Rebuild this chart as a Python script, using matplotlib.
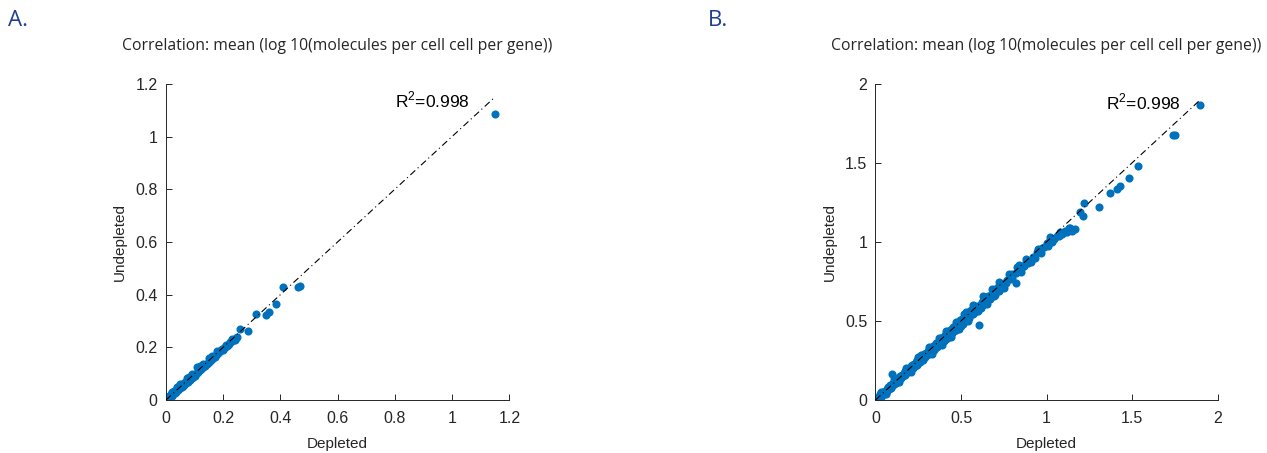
import matplotlib.pyplot as plt
import numpy as np

# values
dep_a = [0.002, 0.005, 0.008, 0.010, 0.012, 0.015, 0.018, 0.020, 0.022, 0.025, 0.028, 0.030,
         0.033, 0.036, 0.040, 0.040, 0.043, 0.046, 0.050, 0.053, 0.055, 0.056, 0.060, 0.063,
         0.066, 0.070, 0.073, 0.075, 0.076, 0.080, 0.083, 0.086, 0.090, 0.090, 0.093, 0.096,
         0.100, 0.103, 0.107, 0.110, 0.113, 0.116, 0.120, 0.123, 0.126, 0.130, 0.130, 0.133,
         0.136, 0.140, 0.143, 0.146, 0.150, 0.153, 0.156, 0.160, 0.160, 0.163, 0.166, 0.170,
         0.173, 0.176, 0.180, 0.183, 0.186, 0.190, 0.193, 0.196, 0.200, 0.204, 0.208, 0.212,
         0.216, 0.220, 0.225, 0.230, 0.235, 0.240, 0.245, 0.249,
         0.020, 0.050, 0.080, 0.120, 0.150, 0.180, 0.210, 0.230, 0.240, 0.200, 0.100, 0.060,
         0.260, 0.286, 0.315, 0.349, 0.360, 0.386, 0.410, 0.462, 0.469, 1.151]
undep_a = [0.003, 0.004, 0.010, 0.007, 0.016, 0.012, 0.022, 0.017, 0.028, 0.021, 0.033, 0.026,
           0.036, 0.031, 0.044, 0.050, 0.038, 0.052, 0.045, 0.055, 0.062, 0.050, 0.062, 0.057,
           0.068, 0.064, 0.071, 0.083, 0.069, 0.078, 0.075, 0.082, 0.085, 0.100, 0.090, 0.088,
           0.095, 0.099, 0.126, 0.104, 0.108, 0.112, 0.114, 0.119, 0.121, 0.125, 0.138, 0.131,
           0.130, 0.135, 0.138, 0.142, 0.146, 0.147, 0.153, 0.155, 0.168, 0.158, 0.163, 0.165,
           0.168, 0.172, 0.175, 0.178, 0.183, 0.185, 0.188, 0.192, 0.195, 0.198, 0.203, 0.206,
           0.210, 0.214, 0.219, 0.223, 0.227, 0.232, 0.234, 0.238,
           0.030, 0.060, 0.088, 0.128, 0.160, 0.186, 0.210, 0.232, 0.226, 0.190, 0.090, 0.052,
           0.270, 0.263, 0.325, 0.323, 0.335, 0.363, 0.428, 0.430, 0.433, 1.086]

dep_b = [0.005, 0.010, 0.015, 0.020, 0.025, 0.030, 0.035, 0.040, 0.045, 0.050, 0.055, 0.060,
         0.065, 0.070, 0.075, 0.080, 0.085, 0.090, 0.096, 0.100, 0.105, 0.110, 0.115, 0.120,
         0.125, 0.130, 0.135, 0.140, 0.145, 0.150, 0.155, 0.160, 0.165, 0.170, 0.175, 0.180,
         0.185, 0.190, 0.195, 0.200, 0.205, 0.210, 0.215, 0.220, 0.225, 0.230, 0.235, 0.240,
         0.245, 0.250, 0.255, 0.260, 0.267, 0.270, 0.275, 0.280, 0.285, 0.290, 0.295, 0.300,
         0.305, 0.310, 0.315, 0.320, 0.325, 0.330, 0.335, 0.340, 0.345, 0.350, 0.355, 0.360,
         0.365, 0.370, 0.375, 0.380, 0.385, 0.390, 0.395, 0.400, 0.405, 0.410, 0.415, 0.420,
         0.425, 0.433, 0.430, 0.440, 0.445, 0.450, 0.455, 0.460, 0.465, 0.470, 0.475, 0.480,
         0.491, 0.495, 0.500, 0.505, 0.510, 0.515, 0.520, 0.530, 0.530, 0.540, 0.545, 0.550,
         0.555, 0.560, 0.570, 0.575, 0.580, 0.590, 0.595, 0.604, 0.608, 0.610, 0.615, 0.620,
         0.630, 0.640, 0.650, 0.660, 0.670, 0.680, 0.690, 0.700, 0.715, 0.720, 0.730, 0.740,
         0.750, 0.764, 0.770, 0.780, 0.790, 0.800, 0.823, 0.820, 0.838, 0.840, 0.850, 0.860,
         0.870, 0.880, 0.890, 0.900, 0.918, 0.930, 0.945, 0.960, 0.975, 0.988, 1.000, 1.010,
         1.018, 1.030, 1.045, 1.060, 1.076, 1.090, 1.105, 1.120, 1.140, 1.150, 1.164, 1.193,
         0.030, 0.060, 0.110, 0.140, 0.180, 0.210, 0.250, 0.280, 0.310, 0.330, 0.370, 0.390,
         0.410, 0.440, 0.470, 0.490, 0.520, 0.540, 0.570, 0.600, 0.630, 0.650, 0.680, 0.700,
         0.720, 0.750, 0.780, 0.800, 0.830, 0.850, 0.880, 0.910, 0.950, 0.970, 1.020, 1.070,
         1.110, 1.130,
         1.216, 1.218, 1.304, 1.372, 1.411, 1.431, 1.480, 1.534, 1.739, 1.749, 1.895]
undep_b = [0.008, 0.004, 0.020, 0.012, 0.035, 0.022, 0.045, 0.030, 0.052, 0.040, 0.060, 0.048,
           0.072, 0.058, 0.080, 0.068, 0.092, 0.078, 0.165, 0.095, 0.110, 0.100, 0.122, 0.108,
           0.130, 0.120, 0.145, 0.128, 0.150, 0.138, 0.160, 0.150, 0.172, 0.158, 0.182, 0.170,
           0.192, 0.178, 0.200, 0.188, 0.212, 0.196, 0.222, 0.205, 0.230, 0.215, 0.240, 0.222,
           0.250, 0.235, 0.262, 0.242, 0.285, 0.250, 0.280, 0.262, 0.290, 0.270, 0.300, 0.282,
           0.312, 0.290, 0.320, 0.298, 0.330, 0.305, 0.340, 0.318, 0.350, 0.328, 0.362, 0.335,
           0.370, 0.345, 0.380, 0.352, 0.392, 0.365, 0.400, 0.375, 0.410, 0.385, 0.420, 0.392,
           0.430, 0.443, 0.400, 0.415, 0.450, 0.425, 0.462, 0.435, 0.470, 0.442, 0.480, 0.455,
           0.485, 0.505, 0.470, 0.515, 0.480, 0.525, 0.500, 0.559, 0.510, 0.548, 0.520, 0.560,
           0.535, 0.570, 0.545, 0.580, 0.556, 0.595, 0.570, 0.475, 0.591, 0.600, 0.585, 0.620,
           0.600, 0.640, 0.625, 0.655, 0.640, 0.675, 0.660, 0.700, 0.717, 0.690, 0.728, 0.712,
           0.742, 0.738, 0.760, 0.772, 0.765, 0.800, 0.738, 0.805, 0.854, 0.818, 0.830, 0.848,
           0.850, 0.872, 0.865, 0.880, 0.907, 0.900, 0.935, 0.935, 0.962, 0.970, 0.990, 0.975,
           1.034, 1.000, 1.020, 1.035, 1.065, 1.050, 1.070, 1.060, 1.085, 1.070, 1.080, 1.186,
           0.050, 0.035, 0.130, 0.115, 0.200, 0.180, 0.270, 0.250, 0.335, 0.290, 0.390, 0.350,
           0.435, 0.400, 0.495, 0.450, 0.545, 0.500, 0.600, 0.560, 0.655, 0.610, 0.700, 0.665,
           0.745, 0.710, 0.800, 0.770, 0.840, 0.810, 0.890, 0.870, 0.955, 0.930, 1.010, 1.040,
           1.060, 1.090,
           1.165, 1.245, 1.220, 1.308, 1.337, 1.354, 1.403, 1.483, 1.677, 1.677, 1.869]

title = "Correlation: mean (log 10(molecules per cell cell per gene))"
r2_text = "R$^2$=0.998"

dot_color = "#0072BD"
ink = "#262626"
panel_blue = "#203f8f"

plt.rcParams['font.family'] = ['Liberation Sans', 'DejaVu Sans']
plt.rcParams['mathtext.fontset'] = 'custom'
plt.rcParams['mathtext.rm'] = 'Liberation Sans'

fig = plt.figure(figsize=(12.67, 4.53), dpi=100)

panels = [
    # (rect, x, y, lim, ticks, r2 pos, letter, letter x)
    ([0.131, 0.117, 0.271, 0.698], dep_a, undep_a, 1.2, np.arange(0, 1.21, 0.2), (0.80, 1.14), "A.", 0.006),
    ([0.691, 0.117, 0.270, 0.698], dep_b, undep_b, 2.0, [0, 0.5, 1, 1.5, 2], (1.35, 1.885), "B.", 0.559),
]

for rect, xs, ys, lim, ticks, r2pos, letter, lx in panels:
    ax = fig.add_axes(rect)
    ax.scatter(xs, ys, s=34, color=dot_color, linewidths=0, zorder=2)
    top = max(xs)
    ax.plot([0, top], [0, top], color="black", lw=0.8, ls=(0, (6, 3, 1, 3)), zorder=3)
    ax.text(r2pos[0], r2pos[1], r2_text, fontsize=12.5, color="black", va="center", ha="left")
    ax.set_xlim(0, lim)
    ax.set_ylim(0, lim)
    ax.set_xticks(ticks)
    ax.set_yticks(ticks)
    ax.set_xticklabels([("%g" % t) for t in ticks])
    ax.set_yticklabels([("%g" % t) for t in ticks])
    for s in ["top", "right"]:
        ax.spines[s].set_visible(False)
    for s in ["left", "bottom"]:
        ax.spines[s].set_color(ink)
        ax.spines[s].set_linewidth(0.7)
    ax.tick_params(direction="in", length=4, width=0.7, colors=ink, labelsize=11.5)
    ax.tick_params(axis="x", pad=8)
    ax.tick_params(axis="y", pad=6)
    ax.set_xlabel("Depleted", fontsize=11, color=ink, labelpad=8)
    ax.set_ylabel("Undepleted", fontsize=11, color=ink, labelpad=6)
    ax.set_title(title, fontsize=11.3, color=ink, family="Open Sans", pad=24)
    fig.text(lx, 0.955, letter, fontsize=16, color=panel_blue, family="Open Sans", va="center")

fig.savefig("out.png", dpi=100)
